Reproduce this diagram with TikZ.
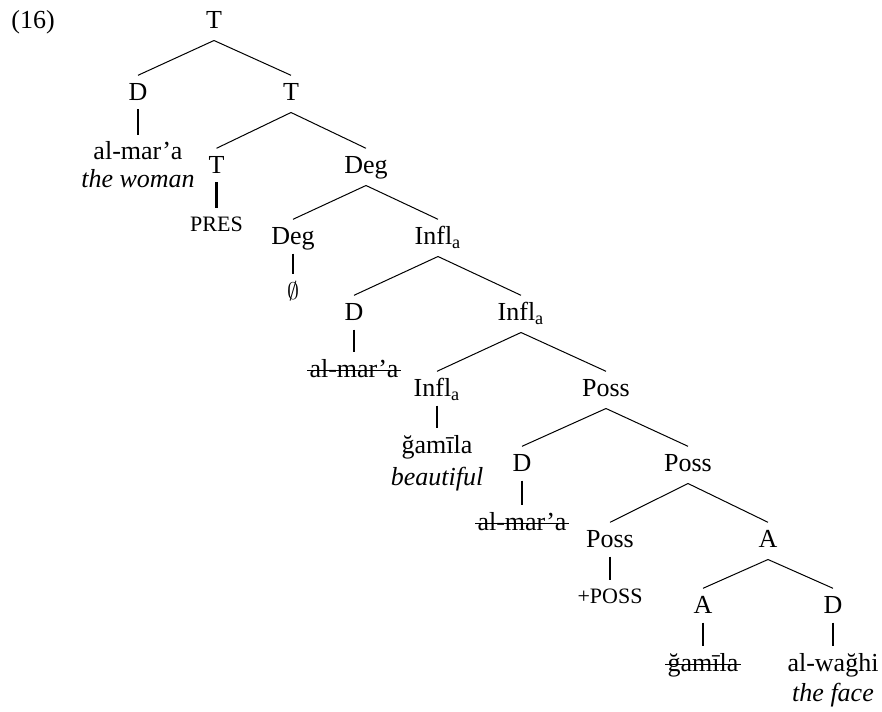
\documentclass[tikz,border=0pt]{standalone}
\usepackage{fontspec}
\setmainfont{Liberation Serif}
\usetikzlibrary{positioning}
\newcommand{\smallcaps}[1]{{\fontsize{11}{13}\selectfont #1}}

\begin{document}
\begin{tikzpicture}[
    x=0.5pt, y=-0.5pt,
    cat/.style={anchor=base, inner xsep=1pt, inner ysep=3.8pt, text height=8.6pt, text depth=2pt, font=\fontsize{13}{15}\selectfont},
    leaf/.style={cat},
    feat/.style={cat, text height=7.2pt, inner ysep=4.3pt},
    gloss/.style={anchor=base, inner sep=1pt, font=\fontsize{13}{15}\selectfont\itshape},
    branch/.style={line width=0.5pt},
    stem/.style={line width=1.1pt, shorten <=-1.5pt},
    strike/.style={line width=0.8pt}
  ]
  \useasboundingbox (0,0) rectangle (882,711);

  % Example number
  \node[cat] (ex) at (33, 28.5) {(16)};

  % Categories
  \node[cat] (t0) at (214, 28.5) {T};
  \node[cat] (d1) at (138, 100.5) {D};
  \node[cat] (t1) at (291, 100.5) {T};
  \node[cat] (t2) at (216.5, 173.5) {T};
  \node[cat] (deg2) at (366, 173.5) {Deg};
  \node[cat] (deg3) at (293, 244.5) {Deg};
  \node[cat] (inf3) at (438, 244.5) {Infl\textsubscript{a}};
  \node[cat] (d4) at (354, 320.5) {D};
  \node[cat] (inf4) at (521, 320.5) {Infl\textsubscript{a}};
  \node[cat] (inf5) at (437, 396.5) {Infl\textsubscript{a}};
  \node[cat] (poss5) at (606, 396.5) {Poss};
  \node[cat] (d6) at (522, 471.5) {D};
  \node[cat] (poss6) at (688, 471.5) {Poss};
  \node[cat] (poss7) at (610, 547.5) {Poss};
  \node[cat] (a7) at (768, 547.5) {A};
  \node[cat] (a8) at (703, 613.5) {A};
  \node[cat] (d8) at (833, 613.5) {D};

  % Leaves
  \node[leaf] (lw1) at (138, 160) {al-mar'a};
  \node[feat] (lw2) at (216.5, 231) {\smallcaps{PRES}};
  \node[leaf] (lw3) at (293, 299) {$\emptyset$};
  \node[leaf] (lw4) at (354, 377) {al-mar'a};
  \node[leaf] (lw5) at (437, 453) {ğamīla};
  \node[leaf] (lw6) at (522, 530) {al-mar'a};
  \node[feat] (lw7) at (610, 603) {\smallcaps{+POSS}};
  \node[leaf] (lw8) at (703, 671) {ğamīla};
  \node[leaf] (lw9) at (833, 671) {al-wağhi};

  % Glosses
  \node[gloss] (gl1) at (138, 188) {the woman};
  \node[gloss] (gl5) at (437, 485) {beautiful};
  \node[gloss] (gl9) at (833, 701) {the face};

  % Branches
  \foreach \p/\c in {t0/d1, t0/t1, t1/t2, t1/deg2, deg2/deg3, deg2/inf3,
      inf3/d4, inf3/inf4, inf4/inf5, inf4/poss5, poss5/d6, poss5/poss6,
      poss6/poss7, poss6/a7, a7/a8, a7/d8} {
    \draw[branch] (\p.south) -- (\c.north);
  }

  % Stems
  \foreach \p/\c in {d1/lw1, t2/lw2, deg3/lw3, d4/lw4, inf5/lw5, d6/lw6, poss7/lw7, a8/lw8, d8/lw9} {
    \draw[stem] (\p.south) -- (\p.south |- \c.north);
  }

  % Struck-out copies
  \foreach \w in {lw4, lw6, lw8} {
    \draw[strike] ([yshift=3.3pt]\w.base west) -- ([yshift=3.3pt]\w.base east);
  }

\end{tikzpicture}
\end{document}
